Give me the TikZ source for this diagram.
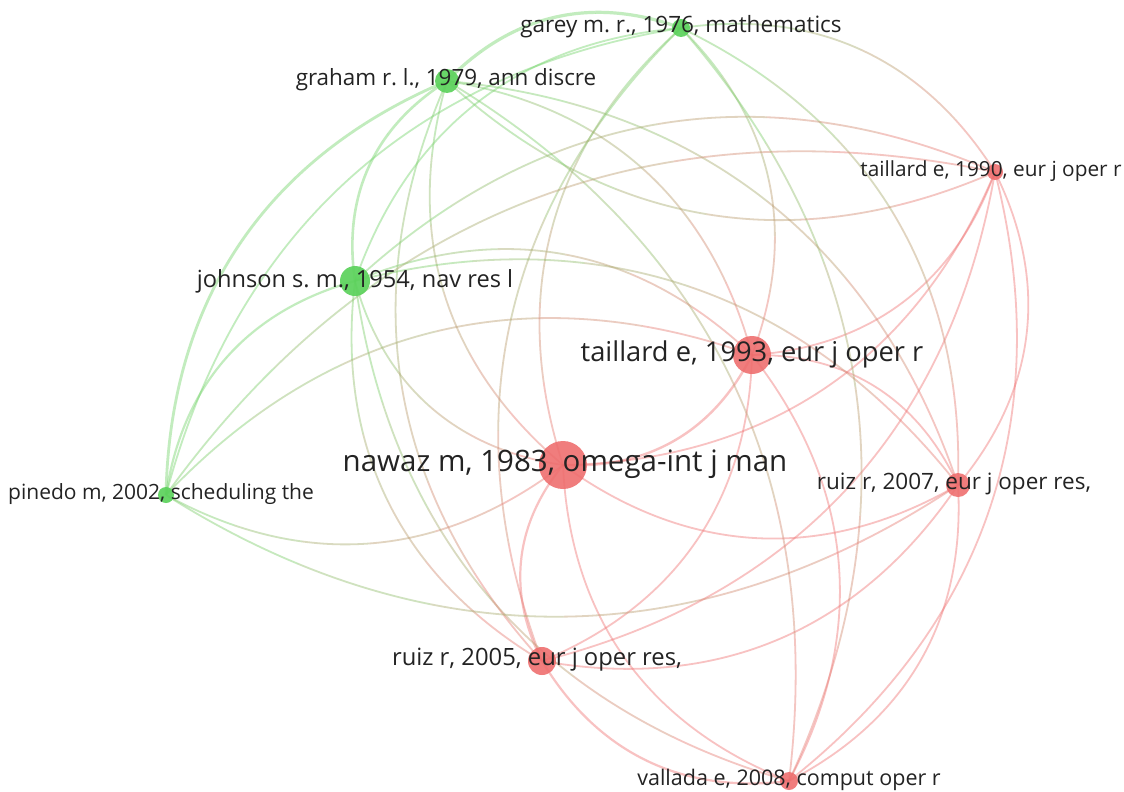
\documentclass[tikz,border=0pt]{standalone}
\usepackage{fontspec}
\setmainfont{Open Sans}
\frenchspacing
\usetikzlibrary{calc,backgrounds}
\definecolor{gN}{RGB}{92,210,92}
\definecolor{rN}{RGB}{238,108,108}
\definecolor{gE}{RGB}{115,212,105}
\definecolor{rE}{RGB}{240,115,115}
\definecolor{txt}{RGB}{35,35,35}
\tikzset{
  gnode/.style={circle, fill=gN, draw=none, inner sep=0pt, fill opacity=0.92},
  rnode/.style={circle, fill=rN, draw=none, inner sep=0pt, fill opacity=0.88},
  lbl/.style={text=txt, inner sep=0pt, anchor=center},
}
\def\flp{1}
% control points of a curved link, bent away from (ctr) (times \flp)
\newcommand\ctrlpts[2]{%
  \path let \p1=(#1.center), \p2=(#2.center), \p3=(ctr),
    \n1={((\x1+\x2)/2-\x3)/100}, \n2={((\y1+\y2)/2-\y3)/100},
    \n3={(\y1-\y2)/100}, \n4={(\x2-\x1)/100},
    \n5={33*\flp*sign(\n1*\n3+\n2*\n4)}, \n6={-\n5} in
    coordinate (cA) at ($(#1.center)!0.3915!\n5:(#2.center)$)
    coordinate (cB) at ($(#2.center)!0.3915!\n6:(#1.center)$);}
% link: [width]{from}{to}{colour at from}{colour at to}
\newcommand\lnk[5][1.8pt]{%
  \ctrlpts{#2}{#3}%
  \foreach \k in {0,...,5}{%
    \pgfmathsetmacro\ta{\k/6}%
    \pgfmathsetmacro\tb{(\k+1)/6}%
    \pgfmathtruncatemacro\pc{round(100-100*(\k+0.5)/6)}%
    \colorlet{segc}{#4!\pc!#5}%
    \begin{pgfscope}
      \pgfsetlinewidth{#1}%
      \pgfsetstrokecolor{segc}%
      \pgfsetstrokeopacity{0.43}%
      \pgfpathcurvebetweentime{\ta}{\tb}{\pgfpointanchor{#2}{center}}%
        {\pgfpointanchor{cA}{center}}{\pgfpointanchor{cB}{center}}%
        {\pgfpointanchor{#3}{center}}%
      \pgfusepath{stroke}%
    \end{pgfscope}}}
\newcommand\fs[1]{\fontsize{#1}{#1}\selectfont}
\begin{document}
\begin{tikzpicture}[x=1pt,y=-1pt]
\useasboundingbox (0,0) rectangle (1124,792);
\coordinate (ctr) at (600,400);
% circles
\node[gnode, minimum size=18pt] (ga)  at (681,28)  {};
\node[gnode, minimum size=24pt] (gr)  at (447,81)  {};
\node[rnode, minimum size=16pt] (t90) at (995,172) {};
\node[gnode, minimum size=30pt] (jo)  at (355,281) {};
\node[rnode, minimum size=38pt] (t93) at (752,355) {};
\node[rnode, minimum size=48pt] (na)  at (563,465) {};
\node[gnode, minimum size=16pt] (pi)  at (166,495) {};
\node[rnode, minimum size=24pt] (r07) at (958,485) {};
\node[rnode, minimum size=28pt] (r05) at (542,661) {};
\node[rnode, minimum size=18pt] (va)  at (789,781) {};
% labels
\node[lbl, font=\fs{22.5}] (lga)  at (681,27)  {garey m. r., 1976, mathematics};
\node[lbl, font=\fs{22.4}] (lgr)  at (446,80)  {graham r. l., 1979, ann discre};
\node[lbl, font=\fs{20.8}] (lt90) at (991,171) {taillard e, 1990, eur j oper r};
\node[lbl, font=\fs{23.6}] (ljo)  at (355,281) {johnson s. m., 1954, nav res l};
\node[lbl, font=\fs{27.3}] (lt93) at (752,354) {taillard e, 1993, eur j oper r};
\node[lbl, font=\fs{29.5}] (lna)  at (565,464) {nawaz m, 1983, omega-int j man};
\node[lbl, font=\fs{21}]   (lpi)  at (161,494) {pinedo m, 2002, scheduling the};
\node[lbl, font=\fs{22.5}] (lr07) at (954,484) {ruiz r, 2007, eur j oper res,};
\node[lbl, font=\fs{23.8}] (lr05) at (537,660) {ruiz r, 2005, eur j oper res,};
\node[lbl, font=\fs{21.5}] (lva)  at (789,780) {vallada e, 2008, comput oper r};
\begin{pgfonlayer}{background}
\fill[white] (0,0) rectangle (1124,792);
% green-green
\lnk[3.2pt]{ga}{gr}{gE}{gE}
\lnk{ga}{jo}{gE}{gE}
\lnk{ga}{pi}{gE}{gE}
\lnk[2.6pt]{gr}{jo}{gE}{gE}
\lnk[2.8pt]{gr}{pi}{gE}{gE}
\lnk[2.2pt]{jo}{pi}{gE}{gE}
% red-red
\lnk{t90}{t93}{rE}{rE}
\lnk{t90}{na}{rE}{rE}
\lnk{t90}{r07}{rE}{rE}
\lnk{t90}{r05}{rE}{rE}
\lnk{t90}{va}{rE}{rE}
\lnk[2.4pt]{t93}{na}{rE}{rE}
\lnk{t93}{r07}{rE}{rE}
\lnk{t93}{r05}{rE}{rE}
\lnk{t93}{va}{rE}{rE}
\lnk{na}{r07}{rE}{rE}
\lnk[2.2pt]{na}{r05}{rE}{rE}
\lnk{na}{va}{rE}{rE}
\lnk{r07}{r05}{rE}{rE}
\lnk{r07}{va}{rE}{rE}
\lnk[2.2pt]{r05}{va}{rE}{rE}
% mixed
\lnk{ga}{t90}{gE}{rE}
\lnk{ga}{t93}{gE}{rE}
\lnk{ga}{na}{gE}{rE}
\lnk{ga}{r07}{gE}{rE}
\lnk{ga}{r05}{gE}{rE}
\lnk{ga}{va}{gE}{rE}
\def\flp{-1}
\lnk{gr}{t90}{gE}{rE}
\def\flp{1}
\lnk{gr}{t93}{gE}{rE}
\lnk{gr}{na}{gE}{rE}
\lnk{gr}{r07}{gE}{rE}
\lnk{gr}{r05}{gE}{rE}
\lnk{gr}{va}{gE}{rE}
\lnk{jo}{t90}{gE}{rE}
\lnk{jo}{t93}{gE}{rE}
\lnk{jo}{na}{gE}{rE}
\lnk{jo}{r07}{gE}{rE}
\lnk{jo}{r05}{gE}{rE}
\lnk{jo}{va}{gE}{rE}
\lnk{pi}{t90}{gE}{rE}
\lnk{pi}{t93}{gE}{rE}
\lnk{pi}{na}{gE}{rE}
\lnk{pi}{r07}{gE}{rE}
\end{pgfonlayer}
\end{tikzpicture}
\end{document}
